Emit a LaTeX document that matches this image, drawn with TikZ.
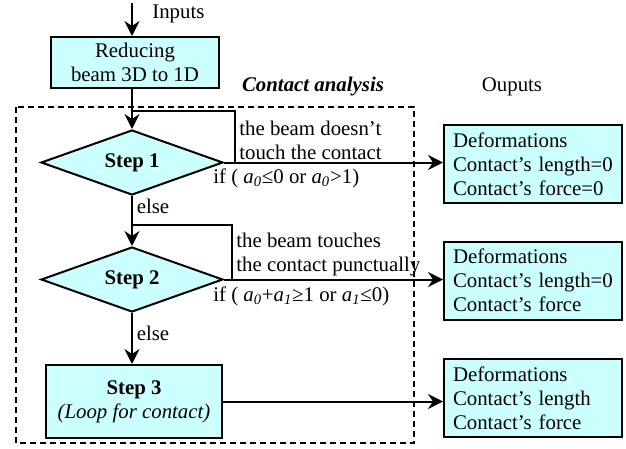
\documentclass[tikz,border=0pt]{standalone}
\usepackage{fontspec}
\setmainfont{Liberation Serif}
\usetikzlibrary{shapes.geometric,arrows.meta}
\definecolor{boxcyan}{HTML}{CCFFFF}
\def\px{0.6pt}
\newcommand{\sub}[1]{\textit{a}\textsubscript{\textit{#1}}}

\begin{document}
\begin{tikzpicture}[x=0.6pt, y=-0.6pt,
	font=\fontsize{12.5}{14.4}\selectfont,
	boxstyle/.style={rectangle, draw, line width=1.2pt, fill=boxcyan,
		text centered, align=center, inner sep=0pt},
	decisionstyle/.style={diamond, draw, line width=1.2pt, fill=boxcyan,
		aspect=2.8, inner sep=0pt, minimum width=182*\px, minimum height=65*\px,
		font=\fontsize{12.5}{14.4}\selectfont\bfseries},
	outstyle/.style={rectangle, draw, line width=1.2pt, fill=boxcyan,
		align=left, inner sep=0pt, text width=160*\px, minimum width=178*\px, minimum height=78*\px},
	flowline/.style={line width=1.2pt, -{Stealth[length=9pt, width=9pt, inset=3pt]}},
	downline/.style={flowline, line width=1.7pt},
	loopline/.style={line width=0.8pt},
	notestyle/.style={anchor=west, align=left, inner sep=0pt}]
	\useasboundingbox (0,0) rectangle (626,448);

	% analysis frame
	\draw[line width=0.9pt, dash pattern=on 3.6pt off 2.4pt] (16,107) rectangle (414,443);
	\node (analysis) at (313,87) {\textbf{\textit{Contact analysis}}};
	\node (outputs) at (512,87) {Ouputs};

	% main flow
	\coordinate (in) at (132,3);
	\node[anchor=west, inner sep=0pt] (inlabel) at (152,14) {Inputs};
	\node(reduce) [boxstyle, minimum width=168*\px, minimum height=51*\px] at (135,62.5)
		{Reducing\\beam 3D to 1D};
	\node(step1) [decisionstyle] at (132,162.5) {Step 1};
	\node(step2) [decisionstyle] at (132,279.5) {Step 2};
	\node(step3) [boxstyle, minimum width=176*\px, minimum height=73*\px] at (134,401.5)
		{\textbf{Step 3}\\\textit{(Loop for contact)}};

	% outputs
	\foreach \y/\len/\force [count=\s] in {164/=0/=0, 280.5/=0/, 398//} {
		\node(out\s) [outstyle] at (533,\y)
			{Deformations\\Contact’s length\len\\Contact’s force\force};
	};

	\draw[downline] (in) -- (in |- reduce.north);
	\draw[downline] (reduce.south -| step1) -- (step1);
	\draw[downline] (step1) -- node[pos=0.2, anchor=west, inner sep=2pt] {else} (step2);
	\draw[downline] (step2) -- node[pos=0.4, anchor=west, inner sep=2pt] {else} (step2 |- step3.north);
	\draw[flowline] (step1.east) -- (step1.east -| out1.west);
	\draw[flowline] (step2.east) -- (step2.east -| out2.west);
	\draw[flowline] (step3.east) -- (step3.east -| out3.west);

	% bypass loops
	\coordinate (loop1) at (132,111);
	\coordinate (join1) at (235,162.5);
	\coordinate (loop2) at (132,225);
	\coordinate (join2) at (232,279.5);
	\draw[loopline] (loop1) -| (join1);
	\draw[loopline] (loop2) -| (join2);

	% conditions
	\node(note1) [notestyle] at (239,140) {the beam doesn’t\\touch the contact};
	\node(cond1) [notestyle] at (213,178) {if ( \sub{0}≤0 or \sub{0}>1)};
	\node(note2) [notestyle] at (236,255) {the beam touches\\the contact punctually};
	\node(cond2) [notestyle] at (213,296) {if ( \sub{0}+\sub{1}≥1 or \sub{1}≤0)};
\end{tikzpicture}
\end{document}
